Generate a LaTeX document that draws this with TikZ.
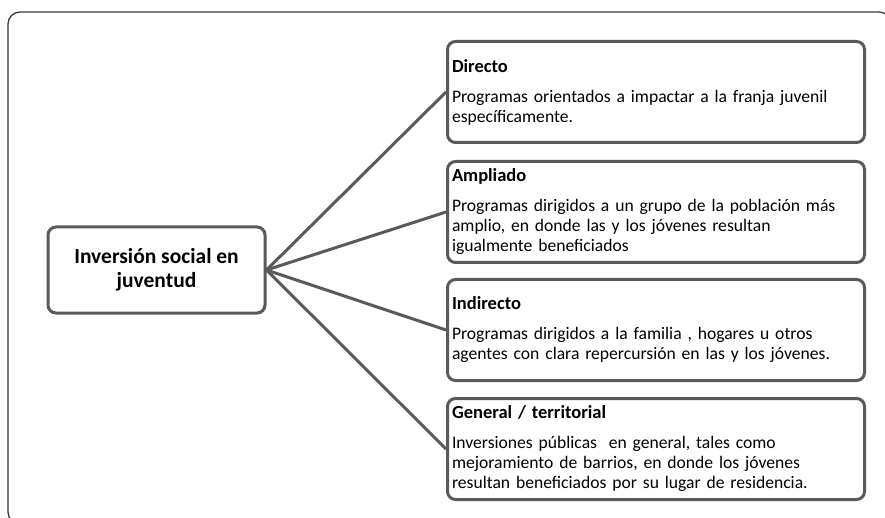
\documentclass[tikz,border=0pt]{standalone}
\usepackage{fontspec}
\setmainfont{Carlito}
\usetikzlibrary{positioning}

\definecolor{linegray}{HTML}{5A5A5A}
\definecolor{framegray}{HTML}{3A3A3A}

\newcommand{\leafhead}[1]{{\fontsize{18.5}{20}\selectfont\bfseries #1}\\[10pt]}

\tikzset{
  box/.style={draw=linegray, line width=3pt, rounded corners=8pt, fill=white},
  leaf/.style={box, anchor=north west, text width=408pt, minimum height=101pt,
    inner sep=4.5pt, align=left, font=\fontsize{17.6}{20}\selectfont},
  link/.style={draw=linegray, line width=3pt},
}

\begin{document}
\begin{tikzpicture}[x=1pt,y=-1pt]

\useasboundingbox (0,0) rectangle (885,518);
% outer frame, cut by the page
\begin{scope}
\clip (0,0) rectangle (885,518);
\draw [framegray, line width=1.3pt, rounded corners=12pt] (8,12) rectangle (891,524);
\end{scope}

% root
\node [box, minimum width=217pt, minimum height=86pt, align=center,
  font=\fontsize{21.5}{24}\selectfont\bfseries] (root) at (156.5,270) {Inversión social en\\juventud};

% kinds of investment
\node [leaf] (directo) at (446,40) {\leafhead{Directo}
Programas orientados a impactar a la franja juvenil\\
específicamente.};
\node [leaf] (ampliado) at (446,160) {\leafhead{Ampliado}
Programas dirigidos a un grupo de la población más\\
amplio, en donde las y los jóvenes resultan\\
igualmente beneficiados};
\node [leaf] (indirecto) at (446,278) {\leafhead{Indirecto}
Programas dirigidos a la familia , hogares u otros\\
agentes con clara repercursión en las y los jóvenes.};
\node [leaf] (general) at (446,397) {\leafhead{General / territorial}
Inversiones públicas\ \ en general, tales como\\
mejoramiento de barrios, en donde los jóvenes\\
resultan beneficiados por su lugar de residencia.};

% links
\foreach \leafname in {directo,ampliado,indirecto,general}
  \draw [link] (root.east) -- (\leafname.west);

\end{tikzpicture}
\end{document}
